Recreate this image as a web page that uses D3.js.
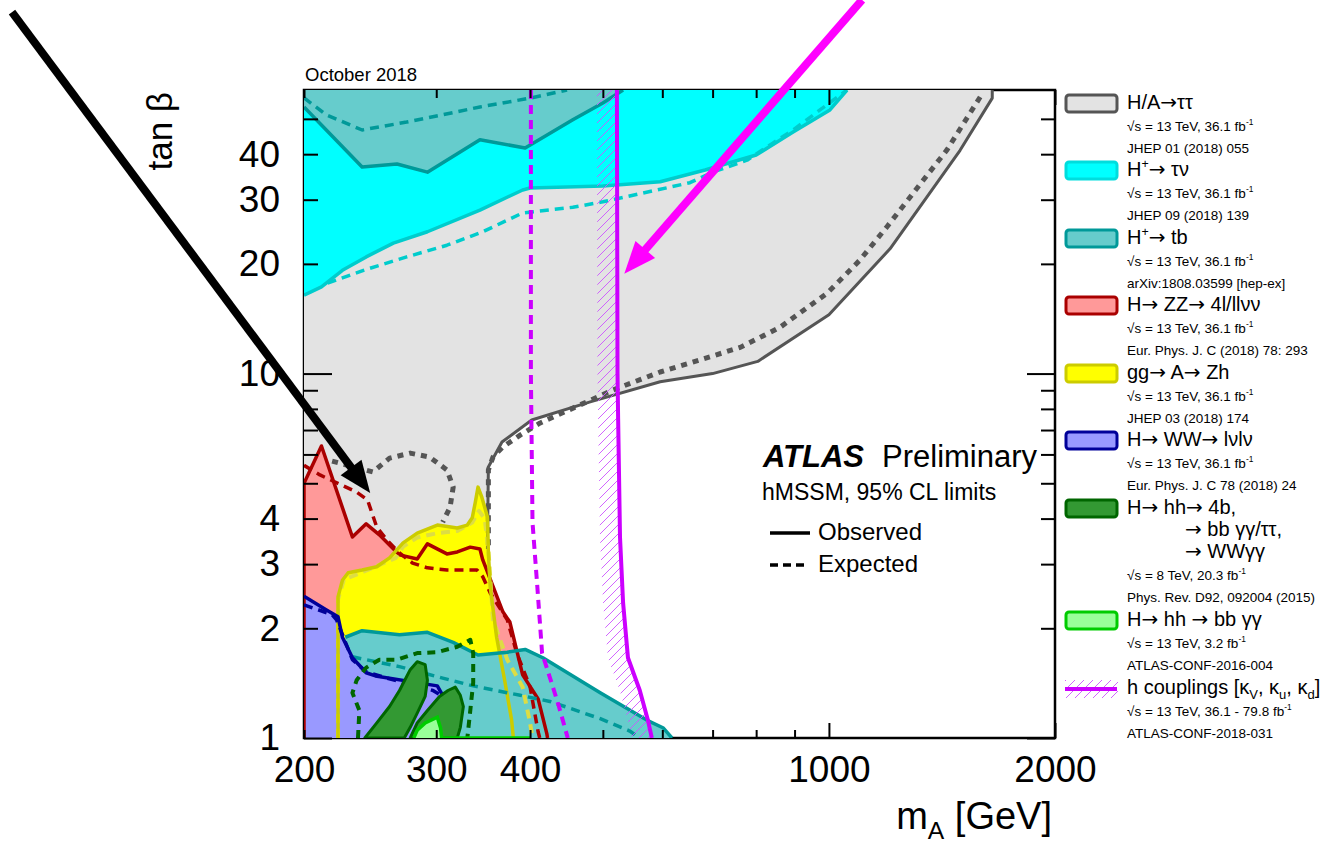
<!DOCTYPE html>
<html><head><meta charset="utf-8">
<script src="https://cdn.jsdelivr.net/npm/d3@7"></script>
<style>
body{margin:0;background:#fff;}
svg{display:block;}
text{font-family:"Liberation Sans",Arial,Helvetica,sans-serif;fill:#000;}
</style>
</head><body>
<svg id="c" width="1335" height="846"></svg>
<script>
// ---------------- data (mA [GeV], tan beta) ----------------
const xTickLabels = [200, 300, 400, 1000, 2000];
const yTickLabels = [1, 2, 3, 4, 10, 20, 30, 40];
const xMinorTicks = [200, 300, 400, 500, 600, 700, 800, 900];
const xMajorTicks = [1000, 2000];
const yMinorTicks = [2, 3, 4, 5, 6, 7, 8, 9, 20, 30, 40, 50];
const yMajorTicks = [1, 10];

// H/A -> tautau
const ttObs = [[1650,60],[1650,57],[1495,41],[1206,22],[1000,14.5],[804,10.8],[700,10],[596,9.5],[481,8.36],[402,7.46],[367,6.49],[352,5.54],[351,3.3]];
const ttExp = [[1590,57.4],[1436,41.1],[1195,25.3],[1100,20.5],[994,16.6],[861,13.4],[762,11.8],[673,10.9],[596,10.1],[516,9.02],[466,8.2],[412,7.31],[388,6.78],[368,6.29],[357,5.9],[352,5.44],[352,3.38]];
const ttExpLoop = [[218,5.75],[247,5.37],[260,5.86],[277,6.05],[294,5.9],[310,5.44],[316,4.88],[313,4.3],[306,3.91]];
// H+ -> tau nu
const tnObs = [[200,16.4],[211,17.3],[225,19.2],[242,20.9],[263,22.8],[292,24.5],[343,28.1],[391,31.9],[400,32.3],[500,32.7],[596,33.6],[684,36.2],[800,39.8],[896,46],[1003,52.9],[1057,60]];
const tnExp = [[215,17.7],[240,19.2],[274,20.9],[310,22.5],[346,24.5],[391,27.6],[456,28.6],[500,29.6],[566,31.3],[653,33.4],[700,35.7],[778,38.5],[842,42.9],[896,46.6],[973,52.9],[1057,60]];
// H+ -> tb (high and low tan beta)
const tbHighObs = [[200,53.9],[239,36.9],[266,37.6],[292,35.7],[343,43.8],[394,41.6],[456,49.7],[500,55.3],[532,60]];
const tbHighExp = [[200,57.1],[214,51.3],[239,46.6],[274,49],[306,51.3],[343,53.9],[402,57.1],[448,60]];
const tbLowObs = [[227,1.89],[239,1.97],[268,1.92],[292,1.95],[316,1.83],[341,1.69],[373,1.72],[394,1.75],[416,1.66],[496,1.33],[572,1.12],[602,1.065],[618,1]];
const tbLowExp = [[232,1.67],[268,1.57],[306,1.46],[336,1.39],[388,1.31],[425,1.26],[496,1.13],[543,1.045],[560,1]];
// H -> ZZ
const zzObs = [[200,1],[200,5.0],[211,6.33],[232,3.56],[242,3.87],[252,3.61],[268,3.18],[283,3.1],[292,3.41],[310,3.2],[320,3.24],[333,3.34],[343,3.3],[346,3.08],[354,2.73],[368,2.22],[376,2.08],[391,1.49],[410,1.28],[421,1.03],[422,1]];
const zzExp = [[200,5.6],[210,5.27],[235,4.73],[243,4.5],[250,3.79],[258,3.49],[268,3.22],[279,3.02],[292,2.93],[310,2.89],[340,2.89],[346,2.77],[354,2.5],[373,2.11],[384,1.71],[400,1.38],[410,1.04],[412,1]];
// gg -> A -> Zh
const zhObs = [[222,1],[222,2.44],[225,2.71],[229,2.84],[239,2.89],[250,2.95],[260,3.12],[271,3.43],[283,3.65],[301,3.84],[320,3.77],[330,3.84],[335,4.02],[338,4.41],[341,4.88],[345,4.58],[351,4.04],[352,3.22],[354,2.6],[361,1.89],[370,1.44],[378,1.12],[380,1]];
const zhExp = [[222,1],[222,2.4],[226,2.72],[240,2.86],[265,3.12],[271,3.35],[283,3.55],[301,3.65],[320,3.7],[335,3.9],[342,4.2],[348,4.0],[352,3.3],[357,2.11],[373,1.64],[391,1.38],[400,1.1],[403,1]];
// H -> WW
const wwObs = [[200,2.45],[214,2.25],[222,2.15],[225,1.89],[232,1.66],[242,1.51],[249,1.48],[301,1.39],[304,1.34],[315,1.18],[318,1]];
const wwExp = [[200,2.32],[218,2.18],[221,2.11],[232,1.64],[242,1.52],[258,1.46],[297,1.35],[306,1.3],[313,1.12]];
// H -> hh (Run 1)
const hhObsA = [[241,1],[250,1.1],[260,1.22],[268,1.35],[277,1.54],[283,1.62],[290,1.59],[292,1.44],[290,1.3],[283,1.17],[277,1.07],[272,1]];
const hhObsB = [[277,1],[283,1.1],[292,1.19],[303,1.3],[311,1.35],[318,1.38],[323,1.31],[326,1.22],[323,1.07],[320,1]];
const hhExp = [[236,1],[237,1.19],[232,1.33],[235,1.44],[242,1.56],[252,1.64],[266,1.64],[283,1.71],[301,1.72],[320,1.78],[333,1.86],[336,1.71],[336,1.42],[333,1.19],[330,1]];
// H -> hh -> bbyy (13 TeV)
const bbyyObs = [[280,1],[283,1.05],[290,1.1],[301,1.14],[304,1.065],[305,1],[400,1]];
// h couplings
const hcObs = [[522,60],[523,10],[524,7.5],[527,3.56],[532,2.35],[540,1.66],[560,1.35],[574,1.12],[581,1]];
const hcExp = [[401,60],[401,10],[403,3.9],[409,2.6],[415,1.71],[429,1.38],[437,1.22],[449,1]];
// annotation arrows [start, tip]
const arrowBlack = [[81.7,98.2],[245,4.70]];
const arrowMagenta = [[1107,106],[534,18.8]];

// legend
const legendTitles = ["H/A→ττ","H^{+}→ τν","H^{+}→ tb","H→ ZZ→ 4l/llνν","gg→ A→ Zh","H→ WW→ lνlν","H→ hh→ 4b,","H→ hh → bb γγ","h couplings [κ_{V}, κ_{u}, κ_{d}]"];
const legendExtra = [[],[],[],[],[],[],["→ bb γγ/ττ,","→ WWγγ"],[],[]];
const legendEnergy = ["√s = 13 TeV, 36.1 fb^{-1}","√s = 13 TeV, 36.1 fb^{-1}","√s = 13 TeV, 36.1 fb^{-1}","√s = 13 TeV, 36.1 fb^{-1}","√s = 13 TeV, 36.1 fb^{-1}","√s = 13 TeV, 36.1 fb^{-1}","√s = 8 TeV, 20.3 fb^{-1}","√s = 13 TeV, 3.2 fb^{-1}","√s = 13 TeV, 36.1 - 79.8 fb^{-1}"];
const legendRefs = ["JHEP 01 (2018) 055","JHEP 09 (2018) 139","arXiv:1808.03599 [hep-ex]","Eur. Phys. J. C (2018) 78: 293","JHEP 03 (2018) 174","Eur. Phys. J. C 78 (2018) 24","Phys. Rev. D92, 092004 (2015)","ATLAS-CONF-2016-004","ATLAS-CONF-2018-031"];
const legendFills = ["#e3e3e3","#00ffff","#66cccc","#ff9999","#ffff00","#9999ff","#339933","#99ff99",null];
const legendStrokes = ["#555555","#00dddd","#009999","#aa0000","#cccc00","#000099","#006600","#00cc00","#cc00ff"];

// ---------------- drawing ----------------
const svg = d3.select("#c");
const X0 = 304, X1 = 1055, Y0 = 90, Y1 = 738;
const x = d3.scaleLog().domain([200, 2000]).range([X0, X1]);
const y = d3.scaleLog().domain([1, 60]).range([Y1, Y0]);
const line = d3.line().x(d => x(d[0])).y(d => y(d[1]));

const defs = svg.append("defs");
defs.append("clipPath").attr("id","clip").append("rect")
  .attr("x", X0).attr("y", Y0).attr("width", X1 - X0).attr("height", Y1 - Y0);
const pat = defs.append("pattern").attr("id","hatch").attr("patternUnits","userSpaceOnUse")
  .attr("width", 9).attr("height", 9);
pat.append("path").attr("d","M-2,11 L11,-2 M-2,2 L2,-2 M7,11 L11,7").attr("stroke","#cc55ff").attr("stroke-width",0.9);

function rich(t, str, fs) {
  const parts = str.split(/(\^\{[^}]*\}|_\{[^}]*\}|→)/).filter(s => s.length);
  let shift = 0;
  parts.forEach(p => {
    let target = 0, size = fs, content = p, fam = null;
    if (p.startsWith("^{")) { content = p.slice(2, -1); target = -0.42 * fs; size = 0.62 * fs; }
    else if (p.startsWith("_{")) { content = p.slice(2, -1); target = 0.25 * fs; size = 0.65 * fs; }
    else if (p === "→") { fam = '"DejaVu Sans",sans-serif'; }
    const ts = t.append("tspan").text(content).attr("font-size", size).attr("dy", target - shift);
    if (fam) ts.attr("font-family", fam);
    shift = target;
  });
}

// frame
svg.append("rect").attr("x", X0).attr("y", Y0).attr("width", X1 - X0).attr("height", Y1 - Y0)
  .attr("fill", "none").attr("stroke", "#000").attr("stroke-width", 2.5);

const plot = svg.append("g").attr("clip-path", "url(#clip)");

// fills
const tt = line([[200,60], ...ttObs, [351,2.5], [200,2.5]]) + "Z";
plot.append("path").attr("d", tt).attr("fill", "#e3e3e3");
plot.append("path").attr("d", line([[200,60], ...tnObs.slice().reverse()]) + "Z").attr("fill", "#00ffff");
plot.append("path").attr("d", line([[200,60], ...tbHighObs.slice().reverse()]) + "Z").attr("fill", "#66cccc");
plot.append("path").attr("d", line(zzObs) + "Z").attr("fill", "#ff9999");
plot.append("path").attr("d", line(zhObs) + "Z").attr("fill", "#ffff00");
plot.append("path").attr("d", line([[227,1], ...tbLowObs]) + "Z").attr("fill", "#66cccc");
plot.append("path").attr("d", line([[200,1], ...wwObs]) + "Z").attr("fill", "#9999ff");

function drawLine(data, color, width, dash) {
  plot.append("path").attr("d", line(data)).attr("fill", "none").attr("stroke", color)
    .attr("stroke-width", width).attr("stroke-dasharray", dash || null)
    .attr("stroke-linejoin", "round");
}
// lines
drawLine(ttExp, "#555555", 5, "6,6");
drawLine(ttExpLoop, "#555555", 5, "6,6");
drawLine(ttObs, "#555555", 3);
drawLine(tnExp, "#00cccc", 3.5, "9,6");
drawLine(tnObs, "#00cccc", 3.5);
drawLine(tbHighExp, "#009999", 3.5, "9,6");
drawLine(tbHighObs, "#009999", 3.5);
drawLine(zzExp, "#aa0000", 3.5, "9,6");
drawLine(zzObs, "#aa0000", 3.5);
drawLine(zhExp, "#dddd44", 4, "9,6");
drawLine(zhObs, "#cccc00", 3.5);
drawLine(tbLowExp, "#009999", 3.5, "9,6");
drawLine(tbLowObs, "#009999", 3.5);
drawLine(wwExp, "#000099", 3.5, "9,6");
drawLine(wwObs, "#000099", 3.5);
// hh
[hhObsA, hhObsB].forEach(d => {
  plot.append("path").attr("d", line(d) + "Z").attr("fill", "#339933").attr("stroke", "#006600").attr("stroke-width", 3).attr("stroke-linejoin","round");
});
drawLine(hhExp, "#006600", 4, "8,6");
plot.append("path").attr("d", line(bbyyObs)).attr("fill", "#99ff99").attr("stroke", "#00cc00").attr("stroke-width", 3.5);
// h couplings
const hatchPoly = [...hcObs, ...hcObs.slice().reverse().map(d => [d[0] * 0.9405, d[1]])];
plot.append("path").attr("d", line(hatchPoly) + "Z").attr("fill", "url(#hatch)");
drawLine(hcExp, "#cc00ff", 4, "9,6");
drawLine(hcObs, "#cc00ff", 4);

// ticks (inward)
function ticks(axis, vals, size, tr) {
  const g = svg.append("g").attr("transform", tr).call(axis.tickValues(vals).tickSize(size).tickFormat(""));
  g.select(".domain").remove();
  g.selectAll("line").attr("stroke", "#000").attr("stroke-width", 2);
}
ticks(d3.axisBottom(x), xMinorTicks, -8, `translate(0,${Y1})`);
ticks(d3.axisBottom(x), xMajorTicks, -15, `translate(0,${Y1})`);
ticks(d3.axisTop(x), xMinorTicks, -8, `translate(0,${Y0})`);
ticks(d3.axisTop(x), xMajorTicks, -15, `translate(0,${Y0})`);
ticks(d3.axisLeft(y), yMinorTicks, -14, `translate(${X0},0)`);
ticks(d3.axisLeft(y), yMajorTicks, -28, `translate(${X0},0)`);
ticks(d3.axisRight(y), yMinorTicks, -14, `translate(${X1},0)`);
ticks(d3.axisRight(y), yMajorTicks, -28, `translate(${X1},0)`);

// tick labels
const gx = svg.append("g").attr("transform", `translate(0,${Y1})`)
  .call(d3.axisBottom(x).tickValues(xTickLabels).tickSize(0).tickPadding(18).tickFormat(d3.format("d")));
gx.select(".domain").remove();
gx.selectAll("text").attr("font-size", 37).attr("font-family", '"Liberation Sans",Arial,sans-serif').attr("fill", "#000");
const gy = svg.append("g").attr("transform", `translate(${X0},0)`)
  .call(d3.axisLeft(y).tickValues(yTickLabels).tickSize(0).tickPadding(24).tickFormat(d3.format("d")));
gy.select(".domain").remove();
gy.selectAll("text").attr("font-size", 37).attr("font-family", '"Liberation Sans",Arial,sans-serif').attr("fill", "#000");

// axis titles
const xt = svg.append("text").attr("x", 1052).attr("y", 829).attr("text-anchor", "end");
rich(xt, "m_{A} [GeV]", 38);
svg.append("text").attr("transform", "translate(172,92) rotate(-90)").attr("text-anchor", "end")
  .attr("font-size", 35).text("tan β");
svg.append("text").attr("x", 305).attr("y", 81).attr("font-size", 18.5).text("October 2018");

// ATLAS label
svg.append("text").attr("x", 763).attr("y", 467).attr("font-size", 31).attr("font-weight", "bold").attr("font-style", "italic").text("ATLAS");
svg.append("text").attr("x", 882).attr("y", 467).attr("font-size", 31).text("Preliminary");
svg.append("text").attr("x", 762).attr("y", 500).attr("font-size", 23).text("hMSSM, 95% CL limits");
svg.append("line").attr("x1", 770).attr("x2", 810).attr("y1", 533).attr("y2", 533).attr("stroke", "#000").attr("stroke-width", 3.5);
svg.append("text").attr("x", 818).attr("y", 540).attr("font-size", 24).text("Observed");
svg.append("line").attr("x1", 770).attr("x2", 808).attr("y1", 565).attr("y2", 565).attr("stroke", "#000").attr("stroke-width", 3.5).attr("stroke-dasharray", "8,5");
svg.append("text").attr("x", 818).attr("y", 572).attr("font-size", 24).text("Expected");

// legend
const entryTops = [95, 162, 230, 297, 365, 432, 500, 612, 680];
const lg = svg.append("g");
legendTitles.forEach((t, i) => {
  const top = entryTops[i];
  if (legendFills[i]) {
    lg.append("rect").attr("x", 1066).attr("y", top).attr("width", 51).attr("height", 17).attr("rx", 3)
      .attr("fill", legendFills[i]).attr("stroke", legendStrokes[i]).attr("stroke-width", 3);
  } else {
    lg.append("rect").attr("x", 1065).attr("y", top).attr("width", 53).attr("height", 18).attr("fill", "url(#hatch)");
    lg.append("line").attr("x1", 1065).attr("x2", 1117).attr("y1", top + 9).attr("y2", top + 9).attr("stroke", legendStrokes[i]).attr("stroke-width", 4);
  }
  let yy = top + 14;
  rich(lg.append("text").attr("x", 1127).attr("y", yy), t, 20);
  legendExtra[i].forEach(e => {
    yy += 22;
    rich(lg.append("text").attr("x", 1185).attr("y", yy), e, 20);
  });
  yy += 22;
  rich(lg.append("text").attr("x", 1127).attr("y", yy), legendEnergy[i], 13.5);
  yy += 22;
  lg.append("text").attr("x", 1127).attr("y", yy).attr("font-size", 13.5).text(legendRefs[i]);
});

// annotation arrows
function arrow(pts, color, w) {
  const p0 = [x(pts[0][0]), y(pts[0][1])], p1 = [x(pts[1][0]), y(pts[1][1])];
  const dx = p1[0] - p0[0], dy = p1[1] - p0[1], L = Math.hypot(dx, dy);
  const ux = dx / L, uy = dy / L, hl = 32, hw = 13;
  const bx = p1[0] - ux * hl, by = p1[1] - uy * hl;
  svg.append("line").attr("x1", p0[0]).attr("y1", p0[1]).attr("x2", bx + ux * 2).attr("y2", by + uy * 2)
    .attr("stroke", color).attr("stroke-width", w);
  svg.append("path").attr("d", `M${p1[0]},${p1[1]} L${bx - uy * hw},${by + ux * hw} L${bx + uy * hw},${by - ux * hw} Z`).attr("fill", color);
}
arrow(arrowBlack, "#000", 8);
arrow(arrowMagenta, "#ff00ff", 8);
</script>
</body></html>
